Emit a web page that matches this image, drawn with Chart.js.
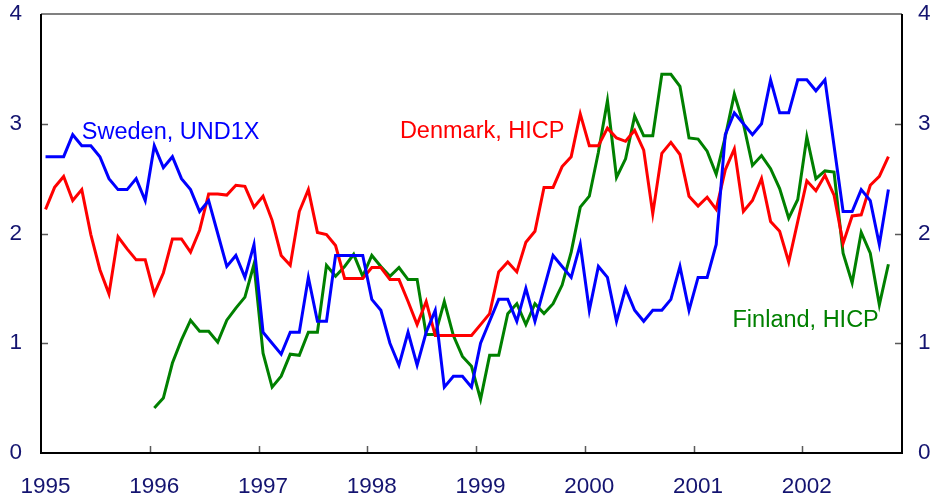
<!DOCTYPE html>
<html>
<head>
<meta charset="utf-8">
<script src="https://cdn.jsdelivr.net/npm/chart.js@4.4.0/dist/chart.umd.min.js"></script>
<style>
    html, body { margin: 0; padding: 0; background: #fff; }
    canvas { display: block; }
</style>
</head>
<body>
<canvas id="chart" width="938" height="503"></canvas>
<script>
// year labels on the x axis, data are monthly from Jan 1995
var years = [1995, 1996, 1997, 1998, 1999, 2000, 2001, 2002];

// Sweden, UND1X (Jan 1995 - Oct 2002)
var sweden = [
    2.7, 2.7, 2.7, 2.9, 2.8, 2.8, 2.7, 2.5, 2.4, 2.4, 2.5, 2.3,
    2.8, 2.6, 2.7, 2.5, 2.4, 2.2, 2.3, 2.0, 1.7, 1.8, 1.6, 1.9,
    1.1, 1.0, 0.9, 1.1, 1.1, 1.6, 1.2, 1.2, 1.8, 1.8, 1.8, 1.8,
    1.4, 1.3, 1.0, 0.8, 1.1, 0.8, 1.1, 1.3, 0.6, 0.7, 0.7, 0.6,
    1.0, 1.2, 1.4, 1.4, 1.2, 1.5, 1.2, 1.5, 1.8, 1.7, 1.6, 1.9,
    1.3, 1.7, 1.6, 1.2, 1.5, 1.3, 1.2, 1.3, 1.3, 1.4, 1.7, 1.3,
    1.6, 1.6, 1.9, 2.9, 3.1, 3.0, 2.9, 3.0, 3.4, 3.1, 3.1, 3.4,
    3.4, 3.3, 3.4, 2.8, 2.2, 2.2, 2.4, 2.3, 1.9, 2.4
];

// Denmark, HICP (Jan 1995 - Oct 2002)
var denmark = [
    2.22, 2.42, 2.52, 2.30, 2.40, 1.99, 1.67, 1.45, 1.97, 1.86, 1.76, 1.76,
    1.45, 1.64, 1.95, 1.95, 1.83, 2.03, 2.36, 2.36, 2.35, 2.44, 2.43, 2.24,
    2.34, 2.12, 1.80, 1.71, 2.20, 2.40, 2.01, 1.99, 1.89, 1.59, 1.59, 1.59,
    1.69, 1.69, 1.58, 1.58, 1.38, 1.17, 1.38, 1.07, 1.07, 1.07, 1.07, 1.07,
    1.17, 1.27, 1.65, 1.74, 1.65, 1.92, 2.02, 2.42, 2.42, 2.61, 2.70, 3.09,
    2.80, 2.80, 2.96, 2.87, 2.84, 2.94, 2.76, 2.18, 2.73, 2.83, 2.72, 2.34,
    2.25, 2.33, 2.22, 2.58, 2.77, 2.20, 2.30, 2.50, 2.11, 2.02, 1.74, 2.11,
    2.48, 2.39, 2.53, 2.35, 1.91, 2.16, 2.17, 2.44, 2.52, 2.70
];

// Finland, HICP (Jan 1996 - Oct 2002)
var finlandStart = 12;
var finland = [
    0.41, 0.50, 0.82, 1.03, 1.21, 1.11, 1.11, 1.01, 1.21, 1.32, 1.42, 1.72,
    0.91, 0.60, 0.70, 0.90, 0.89, 1.10, 1.10, 1.71, 1.61, 1.70, 1.81, 1.61,
    1.80, 1.70, 1.61, 1.69, 1.58, 1.58, 1.08, 1.08, 1.38, 1.07, 0.88, 0.79,
    0.49, 0.89, 0.89, 1.27, 1.36, 1.17, 1.36, 1.27, 1.36, 1.53, 1.83, 2.24,
    2.34, 2.74, 3.21, 2.51, 2.68, 3.07, 2.89, 2.89, 3.45, 3.45, 3.34, 2.87,
    2.86, 2.75, 2.54, 2.88, 3.27, 3.00, 2.62, 2.71, 2.59, 2.41, 2.14, 2.31,
    2.88, 2.50, 2.57, 2.56, 1.82, 1.55, 2.01, 1.82, 1.35, 1.72
];

var names = ['Sweden, UND1X', 'Denmark, HICP', 'Finland, HICP'];
var colors = ['#0000ff', '#ff0000', '#008000'];
var navy = '#141470';

// monthly values -> points centred in their month
function toPoints(arr, start) {
    return arr.map(function (v, i) { return { x: start + i + 0.5, y: v }; });
}

// frame, inward tick marks and series names
var framePlugin = {
    id: 'frame',
    afterDraw: function (chart) {
        var ctx = chart.ctx, a = chart.chartArea;
        var xs = chart.scales.x, ys = chart.scales.y;
        ctx.save();
        ctx.lineCap = 'butt';

        ctx.strokeStyle = '#5a5a5a';
        ctx.lineWidth = 1.5;
        ctx.beginPath();
        for (var v = 1; v < 4; v++) {
            var py = Math.round(ys.getPixelForValue(v)) + 0.5;
            ctx.moveTo(a.left, py); ctx.lineTo(a.left + 7, py);
            ctx.moveTo(a.right, py); ctx.lineTo(a.right - 7, py);
        }
        for (var k = 1; k < years.length; k++) {
            var px = Math.round(xs.getPixelForValue(k * 12)) + 0.5;
            ctx.moveTo(px, a.bottom); ctx.lineTo(px, a.bottom - 7);
        }
        ctx.stroke();

        ctx.lineWidth = 2;
        ctx.strokeStyle = '#808080';
        ctx.beginPath();
        ctx.moveTo(a.left, a.top); ctx.lineTo(a.right, a.top);
        ctx.stroke();
        ctx.strokeStyle = '#000';
        ctx.beginPath();
        ctx.moveTo(a.left, a.top); ctx.lineTo(a.left, a.bottom);
        ctx.lineTo(a.right, a.bottom); ctx.lineTo(a.right, a.top);
        ctx.stroke();

        // series names placed in data units
        var spots = [[4.5, 2.92], [39.6, 2.93], [76.3, 1.21]];
        ctx.font = '23.5px "Liberation Sans", Arial, sans-serif';
        ctx.textBaseline = 'middle';
        ctx.textAlign = 'left';
        for (var s = 0; s < names.length; s++) {
            ctx.fillStyle = colors[s];
            ctx.fillText(names[s], xs.getPixelForValue(spots[s][0]), ys.getPixelForValue(spots[s][1]));
        }
        ctx.restore();
    }
};

var tickFont = { family: '"Liberation Sans", Arial, sans-serif', size: 22.5 };

function lineSet(label, pts, color) {
    return {
        label: label,
        data: pts,
        borderColor: color,
        backgroundColor: color,
        borderWidth: 3,
        pointRadius: 0,
        tension: 0,
        fill: false,
        yAxisID: 'y'
    };
}

function fitY(w) {
    return function (scale) {
        scale.width = w;
        scale.paddingTop = 0;
        scale.paddingBottom = 0;
    };
}

new Chart(document.getElementById('chart'), {
    type: 'line',
    data: {
        datasets: [
            lineSet(names[0], toPoints(sweden, 0), colors[0]),
            lineSet(names[1], toPoints(denmark, 0), colors[1]),
            lineSet(names[2], toPoints(finland, finlandStart), colors[2])
        ]
    },
    options: {
        responsive: false,
        animation: false,
        parsing: false,
        layout: { padding: { top: 14, left: 0, right: 0, bottom: 0 } },
        plugins: {
            legend: { display: false },
            title: { display: false },
            tooltip: { enabled: false }
        },
        scales: {
            x: {
                type: 'linear',
                min: 0,
                max: 95,
                afterBuildTicks: function (scale) {
                    scale.ticks = years.map(function (yr, k) { return { value: k * 12 + 0.5 }; });
                },
                afterFit: function (scale) {
                    scale.height = 50;
                    scale.paddingLeft = 0;
                    scale.paddingRight = 0;
                },
                ticks: {
                    autoSkip: false,
                    maxRotation: 0,
                    padding: 20,
                    color: navy,
                    font: tickFont,
                    callback: function (value, index) { return String(years[index]); }
                },
                grid: { display: false, drawTicks: false },
                border: { display: false }
            },
            y: {
                position: 'left',
                min: 0,
                max: 4,
                afterFit: fitY(41),
                ticks: { stepSize: 1, padding: 19, color: navy, font: tickFont },
                grid: { display: false, drawTicks: false },
                border: { display: false }
            },
            y2: {
                position: 'right',
                min: 0,
                max: 4,
                afterFit: fitY(36),
                ticks: { stepSize: 1, padding: 16, color: navy, font: tickFont },
                grid: { display: false, drawTicks: false },
                border: { display: false }
            }
        }
    },
    plugins: [framePlugin]
});
</script>
</body>
</html>
